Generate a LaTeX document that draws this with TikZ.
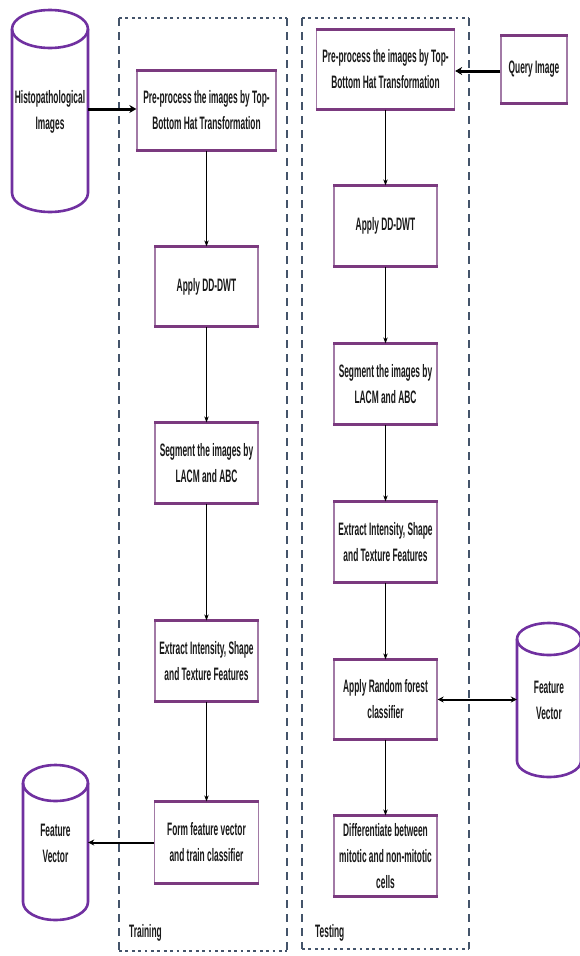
\documentclass[tikz,border=0pt]{standalone}
\usepackage{fontspec}
\setmainfont{Liberation Sans}[FakeStretch=0.465]
\usetikzlibrary{arrows.meta}
\definecolor{boxside}{HTML}{A27AA6}
\definecolor{boxedge}{HTML}{7B3A7F}
\definecolor{cylcol}{HTML}{7030A0}
\definecolor{framecol}{HTML}{44546A}
\newcommand{\drawcyl}[5]{%
  \draw[cylline,fill=white] ({#1-#4},{#2+#5}) -- ({#1-#4},{#3-#5})
    arc[start angle=180,end angle=360,x radius=#4pt,y radius=#5pt]
    -- ({#1+#4},{#2+#5})
    arc[start angle=0,end angle=180,x radius=#4pt,y radius=#5pt] -- cycle;
  \draw[cylline] ({#1-#4},{#2+#5})
    arc[start angle=180,end angle=360,x radius=#4pt,y radius=#5pt];
}
\begin{document}
\begin{tikzpicture}[x=1pt,y=-1pt,
  every node/.style={font=\fontsize{18}{26}\selectfont\bfseries, text=black!90, inner sep=0pt},
  procbox/.style={draw=boxside, line width=1.3pt, fill=white, align=center,
    minimum width=103pt, minimum height=79pt},
  cyltext/.style={align=center, minimum width=#1pt, text width=#1pt},
  cylline/.style={draw=cylcol, line width=2.6pt},
  thinarrow/.style={draw=black, line width=0.9pt, -{Stealth[length=6pt,width=4.5pt]}},
  thickarrow/.style={draw=black, line width=3pt, -{Stealth[length=7pt,width=8pt]}},
  medarrow/.style={draw=black, line width=2pt, -{Stealth[length=6pt,width=6pt]}},
  dotedge/.style={draw=framecol, line width=2.8pt, dash pattern=on 2.8pt off 3.6pt},
  dashedge/.style={draw=framecol, line width=1.5pt, dash pattern=on 8pt off 6pt},
  framelabel/.style={anchor=west}
]
\useasboundingbox (0,0) rectangle (579,956);

% frames
\draw[dashedge] (119,18) -- (119,951);
\draw[dashedge] (287,18) -- (287,951);
\draw[dotedge] (119,18) -- (287,18);
\draw[dotedge] (119,951) -- (287,951);
\draw[dashedge] (302,18) -- (302,949);
\draw[dashedge] (469,18) -- (469,949);
\draw[dotedge] (302,18) -- (469,18);
\draw[dotedge] (302,949) -- (469,949);
\node[framelabel] (trainlbl) at (129,933) {Training};
\node[framelabel] (testlbl) at (315,933) {Testing};

% cylinders
\drawcyl{50}{10}{212}{38}{19}
\drawcyl{55.5}{765}{920}{32.5}{18}
\drawcyl{549}{623}{777}{32}{16}
\node[cyltext=76, minimum height=202pt] (histo) at (50,111.5) {Histopathological\\Images};
\node[cyltext=65, minimum height=155pt] (fv1) at (55.5,843.5) {Feature\\Vector};
\node[cyltext=64, minimum height=154pt] (fv2) at (549,700.5) {Feature\\Vector};

% training boxes
\node[procbox, minimum width=139pt] (pre1) at (206.5,110.5) {Pre-process the images by Top-\\Bottom Hat Transformation};
\node[procbox] (dd1) at (206.5,286.5) {Apply DD-DWT};
\node[procbox, minimum height=80pt] (seg1) at (206.5,463) {Segment the images by\\LACM and ABC};
\node[procbox, minimum height=80pt] (ext1) at (206.5,661) {Extract Intensity, Shape\\and Texture Features};
\node[procbox, minimum width=104pt, minimum height=81pt] (form1) at (206.5,842.5) {Form feature vector\\and train classifier};

% testing boxes
\node[procbox, minimum width=138pt] (pre2) at (385.5,69.5) {Pre-process the images by Top-\\Bottom Hat Transformation};
\node[procbox, minimum width=66pt, minimum height=67pt] (query) at (534,69.5) {Query Image};
\node[procbox, minimum height=80pt] (dd2) at (385.5,226) {Apply DD-DWT};
\node[procbox, minimum height=80pt] (seg2) at (385.5,384) {Segment the images by\\LACM and ABC};
\node[procbox, minimum height=80pt] (ext2) at (385.5,542) {Extract Intensity, Shape\\and Texture Features};
\node[procbox] (rf) at (385.5,699.5) {Apply Random forest\\classifier};
\node[procbox, minimum height=80pt] (diff) at (385.5,856) {Differentiate between\\mitotic and non-mitotic\\cells};

% thick top/bottom edges of boxes
\foreach \n in {pre1,dd1,seg1,ext1,form1,pre2,query,dd2,seg2,ext2,rf,diff}{
  \draw[boxedge, line width=3pt] (\n.north west) -- (\n.north east);
  \draw[boxedge, line width=3pt] (\n.south west) -- (\n.south east);
}

% connectors
\draw[thickarrow] (histo.east |- 0,109) -- (pre1.west |- 0,109);
\draw[thickarrow] (query.west |- 0,71) -- (pre2.east |- 0,71);
\draw[thinarrow] (pre1.south) -- (dd1.north);
\draw[thinarrow] (dd1.south) -- (seg1.north);
\draw[thinarrow] (seg1.south) -- (ext1.north);
\draw[thinarrow] (ext1.south) -- (form1.north);
\draw[medarrow] (form1.west) -- (fv1.east |- form1.west);
\draw[thinarrow] (pre2.south) -- (dd2.north);
\draw[thinarrow] (dd2.south) -- (seg2.north);
\draw[thinarrow] (seg2.south) -- (ext2.north);
\draw[thinarrow] (ext2.south) -- (rf.north);
\draw[thinarrow] (rf.south) -- (diff.north);
\draw[medarrow, {Stealth[length=6pt,width=6pt]}-{Stealth[length=6pt,width=6pt]}] (rf.east) -- (fv2.west |- rf.east);
\end{tikzpicture}
\end{document}
